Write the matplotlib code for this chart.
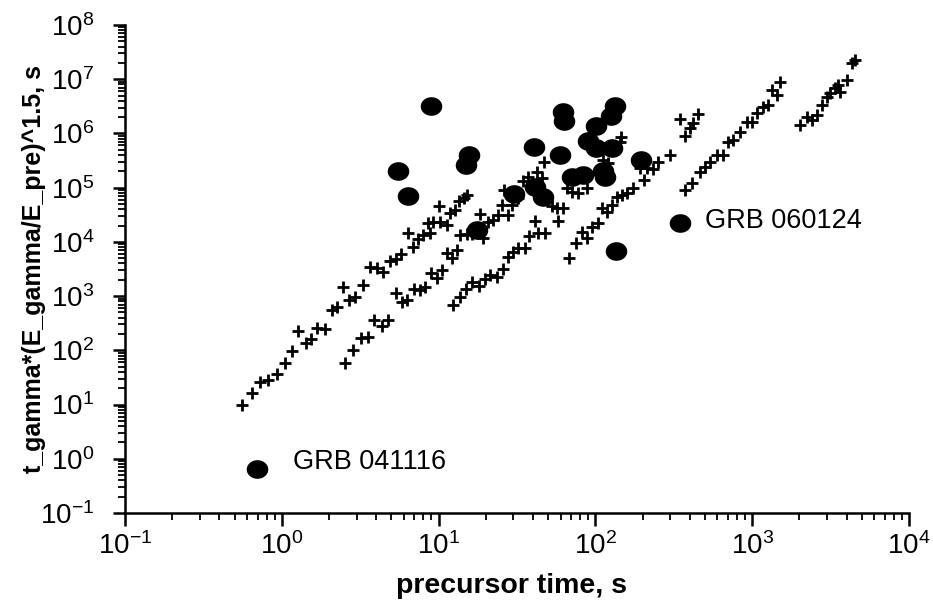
import numpy as np
import matplotlib
matplotlib.use("Agg")
import matplotlib.pyplot as plt
from matplotlib.path import Path
from matplotlib.ticker import LogLocator, NullFormatter

plt.rcParams['font.family'] = ['Liberation Sans', 'DejaVu Sans']
plt.rcParams['mathtext.fontset'] = 'custom'
plt.rcParams['mathtext.rm'] = 'Liberation Sans'
plt.rcParams['mathtext.it'] = 'Liberation Sans'

# ---- data (log10 values) ----
# GRB precursors (filled circles)
grb_log_t = [-0.158, 0.741, 0.805, 0.952, 1.194, 1.175, 1.245, 1.481, 1.609, 1.615,
             1.666, 1.774, 1.794, 1.800, 1.851, 1.921, 1.953, 2.004, 2.004, 2.049,
             2.061, 2.100, 2.107, 2.125, 2.132, 2.291, 2.540]
grb_log_y = [-0.19, 5.306, 4.845, 6.506, 5.602, 5.417, 4.218, 4.882, 5.749, 5.011,
             4.827, 5.602, 6.395, 6.229, 5.196, 5.233, 5.860, 6.137, 5.731, 5.306,
             5.196, 6.321, 5.731, 6.506, 3.830, 5.509, 4.347]

# model tracks (crosses)
trackA_log_t = [-0.254, -0.190, -0.139, -0.088, -0.031, 0.020, 0.065, 0.103, 0.154, 0.186,
                0.225, 0.276, 0.320, 0.352, 0.390, 0.429, 0.467, 0.518, 0.563, 0.607,
                0.646, 0.690, 0.728, 0.760, 0.805, 0.837, 0.869, 0.901, 0.945, 0.933,
                0.964, 1.003, 1.009, 1.054, 1.073, 1.105, 1.130, 1.162, 1.181]
trackA_log_y = [0.989, 1.210, 1.413, 1.450, 1.561, 1.764, 1.985, 2.354, 2.133, 2.207,
                2.410, 2.391, 2.742, 2.797, 3.166, 2.926, 2.982, 3.203, 3.535, 3.517,
                3.443, 3.646, 3.683, 3.775, 4.162, 3.904, 4.052, 4.125, 4.162, 4.347,
                4.365, 4.661, 4.365, 4.310, 4.531, 4.587, 4.753, 4.808, 4.863]

trackB_log_t = [0.403, 0.454, 0.505, 0.550, 0.588, 0.639, 0.677, 0.728, 0.767, 0.799,
                0.843, 0.882, 0.913, 0.952, 0.990, 1.022, 1.054, 1.086, 1.118, 1.137,
                1.181, 1.213, 1.283, 1.264, 1.315, 1.347, 1.379, 1.443, 1.405, 1.468,
                1.507, 1.417, 1.538, 1.570, 1.628, 1.660, 1.672]
trackB_log_y = [1.764, 2.004, 2.225, 2.244, 2.557, 2.447, 2.557, 3.055, 2.889, 2.926,
                3.129, 3.111, 3.166, 3.424, 3.332, 3.480, 3.793, 3.701, 3.849, 4.125,
                4.144, 4.144, 4.070, 4.513, 4.365, 4.402, 4.494, 4.494, 4.679, 4.679,
                4.808, 4.956, 5.122, 5.196, 5.288, 5.177, 5.472]

trackC_log_t = [1.092, 1.137, 1.175, 1.213, 1.258, 1.296, 1.328, 1.373, 1.411, 1.443,
                1.475, 1.507, 1.551, 1.577, 1.634, 1.679, 1.615, 1.762, 1.723, 1.755,
                1.794, 1.819, 1.851, 1.889, 1.947, 2.049, 2.081, 2.164, 2.157]
trackC_log_y = [2.834, 2.982, 3.129, 3.258, 3.185, 3.314, 3.387, 3.351, 3.498, 3.720,
                3.812, 3.886, 3.886, 4.107, 4.162, 4.162, 4.384, 4.384, 4.661, 4.624,
                4.624, 4.993, 4.919, 4.900, 4.993, 5.509, 5.454, 5.934, 5.841]

trackD_log_t = [1.832, 1.877, 1.915, 1.947, 1.979, 2.017, 2.042, 2.074, 2.106, 2.138,
                2.170, 2.202, 2.240, 2.310, 2.285, 2.329, 2.368, 2.399, 2.476, 2.540,
                2.572, 2.604, 2.623, 2.655]
trackD_log_y = [3.701, 3.978, 4.181, 4.070, 4.273, 4.347, 4.624, 4.550, 4.679, 4.827,
                4.863, 4.900, 4.993, 5.140, 5.362, 5.362, 5.343, 5.472, 5.601, 6.266,
                5.952, 6.100, 6.192, 6.358]

trackE_log_t = [2.572, 2.616, 2.667, 2.699, 2.731, 2.776, 2.814, 2.846, 2.878, 2.922,
                2.967, 2.999, 3.031, 3.069, 3.101, 3.127, 3.158, 3.178]
trackE_log_y = [4.956, 5.085, 5.288, 5.380, 5.472, 5.601, 5.601, 5.841, 5.878, 6.026,
                6.210, 6.210, 6.376, 6.487, 6.524, 6.801, 6.708, 6.948]

trackF_log_t = [3.305, 3.350, 3.382, 3.414, 3.445, 3.477, 3.496, 3.528, 3.560, 3.548,
                3.605, 3.637, 3.656]
trackF_log_y = [6.155, 6.303, 6.247, 6.339, 6.524, 6.672, 6.745, 6.838, 6.764, 6.893,
                6.985, 7.299, 7.354]

labels = ["GRB 041116", "GRB 060124"]
label_log_t = [0.0715, 2.699]
label_log_y = [-0.063, 4.384]

x_label = "precursor time, s"
y_label = "t_gamma*(E_gamma/E_pre)^1.5, s"

# ---- figure ----
fig = plt.figure(figsize=(9.33, 6.03), dpi=100)
ax = fig.add_axes([125/933, 90/603, 784/933, 488/603])

# crosses
cross_t = np.concatenate([trackA_log_t, trackB_log_t, trackC_log_t, trackD_log_t,
                          trackE_log_t, trackF_log_t])
cross_y = np.concatenate([trackA_log_y, trackB_log_y, trackC_log_y, trackD_log_y,
                          trackE_log_y, trackF_log_y])
ax.plot(10**cross_t, 10**cross_y, linestyle='none', marker='+', color='black',
        markersize=8.5, markeredgewidth=2.0, clip_on=False)

# ellipse marker for filled circles
th = np.linspace(0, 2*np.pi, 60)
ell = Path(np.column_stack([1.17*np.cos(th), np.sin(th)]), closed=True)
ax.plot(10**np.array(grb_log_t), 10**np.array(grb_log_y), linestyle='none',
        marker=ell, color='black', markersize=14.5, clip_on=False)

for txt, lt, ly in zip(labels, label_log_t, label_log_y):
    ax.text(10**lt, 10**ly, txt, ha='left', va='center', fontsize=19.5)

ax.set_xscale('log')
ax.set_yscale('log')
ax.set_xlim(1e-1, 1e4)
ax.set_ylim(1e-1, 1e8)

ax.xaxis.set_major_locator(LogLocator(base=10, numticks=20))
ax.yaxis.set_major_locator(LogLocator(base=10, numticks=20))
ax.xaxis.set_minor_locator(LogLocator(base=10, subs=np.arange(2, 10), numticks=20))
ax.yaxis.set_minor_locator(LogLocator(base=10, subs=np.arange(2, 10), numticks=20))
ax.xaxis.set_minor_formatter(NullFormatter())
ax.yaxis.set_minor_formatter(NullFormatter())

for s in ['top', 'right']:
    ax.spines[s].set_visible(False)
for s in ['left', 'bottom']:
    ax.spines[s].set_linewidth(1.8)

ax.tick_params(which='major', direction='out', length=9, width=1.8, labelsize=20)
ax.tick_params(which='minor', direction='out', length=5, width=1.3)
ax.tick_params(axis='y', which='major', pad=13)
ax.tick_params(axis='x', which='major', pad=5)

ax.set_xlabel(x_label, fontsize=20.5, fontweight='bold')
ax.set_ylabel(y_label, fontsize=18, fontweight='bold')
ax.xaxis.set_label_coords(0.493, -0.122)
ax.yaxis.set_label_coords(-0.101, 0.5)

fig.savefig("out.png", dpi=100)
